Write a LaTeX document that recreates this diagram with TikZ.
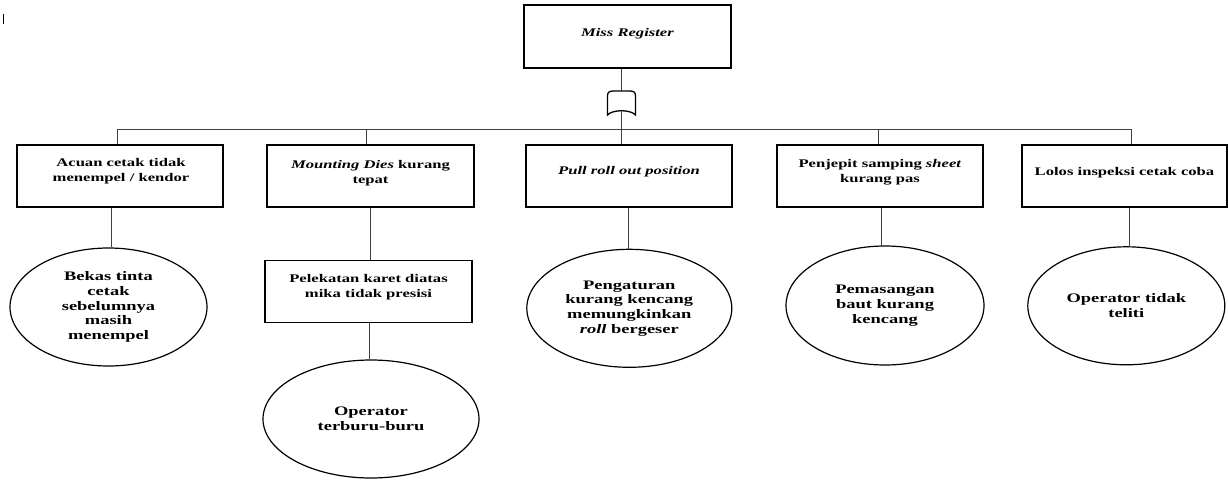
\documentclass[tikz,border=0pt]{standalone}
\usepackage{fontspec}
\setmainfont{Liberation Serif}[FakeStretch=1.42]
\usetikzlibrary{shapes.geometric}
\tikzset{
  boxnode/.style={draw=black, line width=1.3pt, minimum width=#1, minimum height=62pt, inner sep=0pt},
  ovalnode/.style={draw=black, line width=1.2pt, ellipse, inner sep=0pt, align=center,
     font=\fontsize{13}{14.7}\selectfont\bfseries},
  txt/.style={align=center, inner sep=0pt, font=\fontsize{11.7}{14.8}\selectfont\bfseries},
  link/.style={draw=black!75, line width=1pt},
  gatestyle/.style={draw=black, line width=1.3pt, fill=white}
}
\begin{document}
\begin{tikzpicture}[x=1pt,y=-1pt]
\useasboundingbox (0,0) rectangle (1228,479);

% top event
\node[boxnode=207pt, minimum height=63pt] (top) at (627.5,36.5) {};
\node[txt] (toptxt) at (627.5,34) {\textit{Miss Register}};

% second level boxes
\node[boxnode=206pt] (b1) at (120,176) {};
\node[txt] (t1) at (121,171.5) {Acuan cetak tidak\\menempel / kendor};
\node[boxnode=207pt] (b2) at (370.5,176) {};
\node[txt] (t2) at (370.5,173) {\textit{Mounting Dies} kurang\\tepat};
\node[boxnode=206pt] (b4) at (629,176) {};
\node[txt] (t4) at (629,172) {\textit{Pull roll out position}};
\node[boxnode=206pt] (b5) at (880,176) {};
\node[txt] (t5) at (880,172.5) {Penjepit samping \textit{sheet}\\kurang pas};
\node[boxnode=205pt] (b6) at (1124.5,176) {};
\node[txt] (t6) at (1124.5,172.7) {Lolos inspeksi cetak coba};

% third level box
\node[boxnode=207pt] (b3) at (368.5,291.7) {};
\node[txt] (t3) at (368.5,287.5) {Pelekatan karet diatas\\mika tidak presisi};

% ellipses
\node[ovalnode, minimum width=197pt, minimum height=118pt] (e1) at (108.5,307) {Bekas tinta\\cetak\\sebelumnya\\masih\\menempel};
\node[ovalnode, minimum width=216pt, minimum height=118pt] (e2) at (371,419) {Operator\\terburu-buru};
\node[ovalnode, minimum width=205pt, minimum height=118pt] (e4) at (629.3,308.3) {Pengaturan\\kurang kencang\\memungkinkan\\\textit{roll} bergeser};
\node[ovalnode, minimum width=198pt, minimum height=119pt] (e5) at (885,305.5) {Pemasangan\\baut kurang\\kencang};
\node[ovalnode, minimum width=197pt, minimum height=118pt] (e6) at (1126.3,305.8) {Operator tidak\\teliti};

% gate
\coordinate (gt) at (621.5,91);
\coordinate (gb) at (621.5,110.5);
\draw[link] (top.south -| gt) -- (gt);
\draw[gatestyle] (607.5,115) -- (607.5,96) .. controls (607.5,92) and (609.5,91) .. (613.5,91)
   -- (629.5,91) .. controls (633.5,91) and (635.5,92) .. (635.5,96) -- (635.5,115)
   .. controls (630.5,109.3) and (612.5,109.3) .. (607.5,115) -- cycle;

% junctions on the bar
\coordinate (j1) at (117.3,129.5);
\coordinate (j2) at (366,129.5);
\coordinate (j4) at (622.5,129.5);
\coordinate (j5) at (878.3,129.5);
\coordinate (j6) at (1131.7,129.5);

\draw[link] (j1) -- (j6);
\draw[link] (gb) -- (gb |- b4.north);
\draw[link] (j1) -- (j1 |- b1.north);
\draw[link] (j2) -- (j2 |- b2.north);
\draw[link] (j5) -- (j5 |- b5.north);
\draw[link] (j6) -- (j6 |- b6.north);

% lower connectors
\coordinate (c1) at (111,0);
\coordinate (c2) at (370.7,0);
\coordinate (c3) at (369,0);
\coordinate (c4) at (628.3,0);
\coordinate (c5) at (881,0);
\coordinate (c6) at (1129.3,0);
\draw[link] (c1 |- b1.south) -- (c1 |- e1.north);
\draw[link] (c2 |- b2.south) -- (c2 |- b3.north);
\draw[link] (c3 |- b3.south) -- (c3 |- e2.north);
\draw[link] (c4 |- b4.south) -- (c4 |- e4.north);
\draw[link] (c5 |- b5.south) -- (c5 |- e5.north);
\draw[link] (c6 |- b6.south) -- (c6 |- e6.north);

% stray mark at top left
\draw[black, line width=0.9pt] (3.3,13.5) -- (3.3,24);
\end{tikzpicture}
\end{document}
